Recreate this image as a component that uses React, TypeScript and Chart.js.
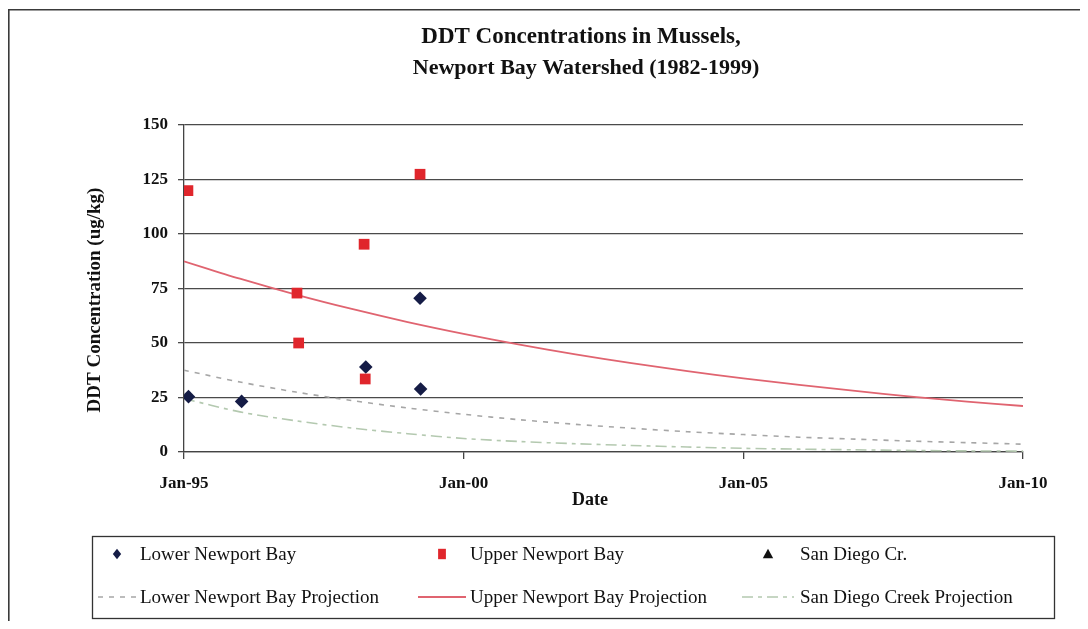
import React, { useEffect, useRef } from 'react';
import { Chart, registerables } from 'chart.js';

Chart.register(...registerables);

// ---- data ----
const lowerYears = [1995.08, 1996.03, 1998.25, 1999.22, 1999.23];
const lowerValues = [25.4, 23.2, 39.0, 70.5, 28.9];

const upperYears = [1995.07, 1997.02, 1997.05, 1998.22, 1998.24, 1999.22];
const upperValues = [119.9, 72.9, 50.0, 95.3, 33.5, 127.4];

const sanDiegoYears: number[] = [];
const sanDiegoValues: number[] = [];

const projYears = [1995, 1996, 1997, 1998, 1999, 2000, 2001, 2002, 2003, 2004, 2005, 2006, 2007, 2008, 2009, 2010];
const lowerProj = [37.5, 32.1, 27.5, 23.6, 20.2, 17.3, 14.8, 12.7, 10.9, 9.3, 8.0, 6.8, 5.9, 5.0, 4.3, 3.6];
const upperProj = [87.5, 79.5, 72.2, 65.6, 59.6, 54.2, 49.3, 44.8, 40.8, 37.1, 33.8, 30.8, 28.0, 25.4, 23.1, 21.1];
const sanDiegoProj = [24.5, 18.4, 14.3, 11.0, 8.4, 6.2, 4.8, 3.8, 3.0, 2.3, 1.7, 1.3, 1.0, 0.7, 0.5, 0.4];

const xTickValues = [1995, 2000, 2005, 2010];
const xTickLabels = ['Jan-95', 'Jan-00', 'Jan-05', 'Jan-10'];
const yTickValues = [0, 25, 50, 75, 100, 125, 150];

const titleLines = ['DDT Concentrations in Mussels,', 'Newport Bay Watershed (1982-1999)'];
const xTitle = 'Date';
const yTitle = 'DDT Concentration (ug/kg)';

const SERIF = "'Liberation Serif', 'Times New Roman', Times, serif";

const zip = (xs: number[], ys: number[]) => xs.map((x, i) => ({ x, y: ys[i] }));

const NAVY = '#151c46';
const RED = '#e0262c';
const RED_LINE = '#e06470';
const GRAY_DASH = '#a6a6a6';
const GREEN_DASH = '#b4c9b0';

function drawMarker(ctx: CanvasRenderingContext2D, style: string, x: number, y: number, r: number, color: string) {
  ctx.save();
  ctx.fillStyle = color;
  ctx.beginPath();
  if (style === 'rectRot') {
    ctx.moveTo(x, y - r);
    ctx.lineTo(x + r * 0.8, y);
    ctx.lineTo(x, y + r);
    ctx.lineTo(x - r * 0.8, y);
  } else if (style === 'rect') {
    ctx.rect(x - r * 0.75, y - r, r * 1.5, r * 2);
  } else {
    ctx.moveTo(x, y - r);
    ctx.lineTo(x + r, y + r * 0.8);
    ctx.lineTo(x - r, y + r * 0.8);
  }
  ctx.closePath();
  ctx.fill();
  ctx.restore();
}

const decorPlugin = {
  id: 'decor',
  afterDraw(chart: any) {
    const ctx: CanvasRenderingContext2D = chart.ctx;
    ctx.save();
    // outer frame (continues beyond the window)
    ctx.strokeStyle = '#3a3a3a';
    ctx.lineWidth = 1.6;
    ctx.beginPath();
    ctx.moveTo(0.8, chart.height);
    ctx.lineTo(0.8, 1.8);
    ctx.lineTo(chart.width, 1.8);
    ctx.stroke();

    // title
    ctx.fillStyle = '#111';
    ctx.textAlign = 'center';
    ctx.textBaseline = 'middle';
    ctx.font = `bold 23px ${SERIF}`;
    ctx.fillText(titleLines[0], 573, 29);
    ctx.font = `bold 22px ${SERIF}`;
    ctx.fillText(titleLines[1], 578, 60);

    // axis titles
    ctx.font = `bold 18px ${SERIF}`;
    ctx.fillText(xTitle, 582, 492);
    ctx.save();
    ctx.translate(87, 292);
    ctx.rotate(-Math.PI / 2);
    ctx.font = `bold 19px ${SERIF}`;
    ctx.fillText(yTitle, 0, 0);
    ctx.restore();

    // legend box
    ctx.strokeStyle = '#333';
    ctx.lineWidth = 1.3;
    ctx.strokeRect(84.5, 528.5, 962, 82);

    const textX = [132, 462, 792];
    const symX = [109, 434, 760];
    const symHalf = [19, 24, 26];
    const rowY = [546, 589];
    ctx.font = `19px ${SERIF}`;
    ctx.textAlign = 'left';
    chart.data.datasets.forEach((ds: any, i: number) => {
      const col = i % 3;
      const row = Math.floor(i / 3);
      const y = rowY[row];
      if (ds.showLine) {
        ctx.save();
        ctx.strokeStyle = ds.borderColor;
        ctx.lineWidth = ds.borderWidth;
        ctx.setLineDash(ds.borderDash || []);
        ctx.beginPath();
        ctx.moveTo(symX[col] - symHalf[col], y);
        ctx.lineTo(symX[col] + symHalf[col], y);
        ctx.stroke();
        ctx.restore();
      } else {
        drawMarker(ctx, ds.pointStyle, symX[col], y, 5.2, ds.backgroundColor);
      }
      ctx.fillStyle = '#111';
      ctx.fillText(ds.label, textX[col], y + 1);
    });
    ctx.restore();
  },
};

export default function App() {
  const ref = useRef<HTMLCanvasElement>(null);
  useEffect(() => {
    const chart = new Chart(ref.current as HTMLCanvasElement, {
      type: 'scatter',
      data: {
        datasets: [
          {
            label: 'Lower Newport Bay',
            data: zip(lowerYears, lowerValues),
            pointStyle: 'rectRot',
            pointRadius: 6.8,
            backgroundColor: NAVY,
            borderColor: NAVY,
            borderWidth: 0,
            showLine: false,
            order: 1,
          },
          {
            label: 'Upper Newport Bay',
            data: zip(upperYears, upperValues),
            pointStyle: 'rect',
            pointRadius: 7.6,
            backgroundColor: RED,
            borderColor: RED,
            borderWidth: 0,
            showLine: false,
            order: 0,
          },
          {
            label: 'San Diego Cr.',
            data: zip(sanDiegoYears, sanDiegoValues),
            pointStyle: 'triangle',
            pointRadius: 6,
            backgroundColor: '#111111',
            borderColor: '#111111',
            showLine: false,
            order: 0,
          },
          {
            label: 'Lower Newport Bay Projection',
            data: zip(projYears, lowerProj),
            showLine: true,
            borderColor: GRAY_DASH,
            backgroundColor: GRAY_DASH,
            borderWidth: 1.6,
            borderDash: [5, 6],
            pointRadius: 0,
            tension: 0.3,
            order: 3,
          },
          {
            label: 'Upper Newport Bay Projection',
            data: zip(projYears, upperProj),
            showLine: true,
            borderColor: RED_LINE,
            backgroundColor: RED_LINE,
            borderWidth: 1.8,
            pointRadius: 0,
            tension: 0.3,
            order: 2,
          },
          {
            label: 'San Diego Creek Projection',
            data: zip(projYears, sanDiegoProj),
            showLine: true,
            borderColor: GREEN_DASH,
            backgroundColor: GREEN_DASH,
            borderWidth: 1.6,
            borderDash: [11, 5, 4, 5],
            pointRadius: 0,
            tension: 0.3,
            order: 3,
          },
        ] as any,
      },
      options: {
        responsive: false,
        animation: false,
        events: [],
        layout: { padding: { left: 100, right: 57, top: 117, bottom: 129 } },
        plugins: {
          legend: { display: false },
          title: { display: false },
          tooltip: { enabled: false },
        },
        scales: {
          x: {
            type: 'linear',
            min: 1995,
            max: 2010,
            afterFit: (s: any) => { s.height = 40; },
            afterBuildTicks: (s: any) => { s.ticks = xTickValues.map((v) => ({ value: v })); },
            ticks: {
              color: '#111',
              font: { family: SERIF, size: 17, weight: 'bold' },
              padding: 14,
              maxRotation: 0,
              callback: (v: any) => xTickLabels[xTickValues.indexOf(Number(v))] ?? '',
            },
            grid: { drawOnChartArea: false, drawTicks: true, tickLength: 7, color: '#444', lineWidth: 1.3 },
            border: { display: true, color: '#444', width: 1.3 },
          },
          y: {
            type: 'linear',
            min: 0,
            max: 150,
            afterFit: (s: any) => { s.width = 76; },
            afterBuildTicks: (s: any) => { s.ticks = yTickValues.map((v) => ({ value: v })); },
            ticks: {
              color: '#111',
              font: { family: SERIF, size: 17, weight: 'bold' },
              padding: 10,
            },
            grid: { drawOnChartArea: true, drawTicks: true, tickLength: 6, color: '#4a4a4a', lineWidth: 1.3 },
            border: { display: true, color: '#444', width: 1.3 },
          },
        },
      } as any,
      plugins: [decorPlugin],
    });
    return () => chart.destroy();
  }, []);
  return (
    <div style={{ width: 1072, height: 613 }}>
      <canvas ref={ref} width={1072} height={613} style={{ display: 'block' }} />
    </div>
  );
}
